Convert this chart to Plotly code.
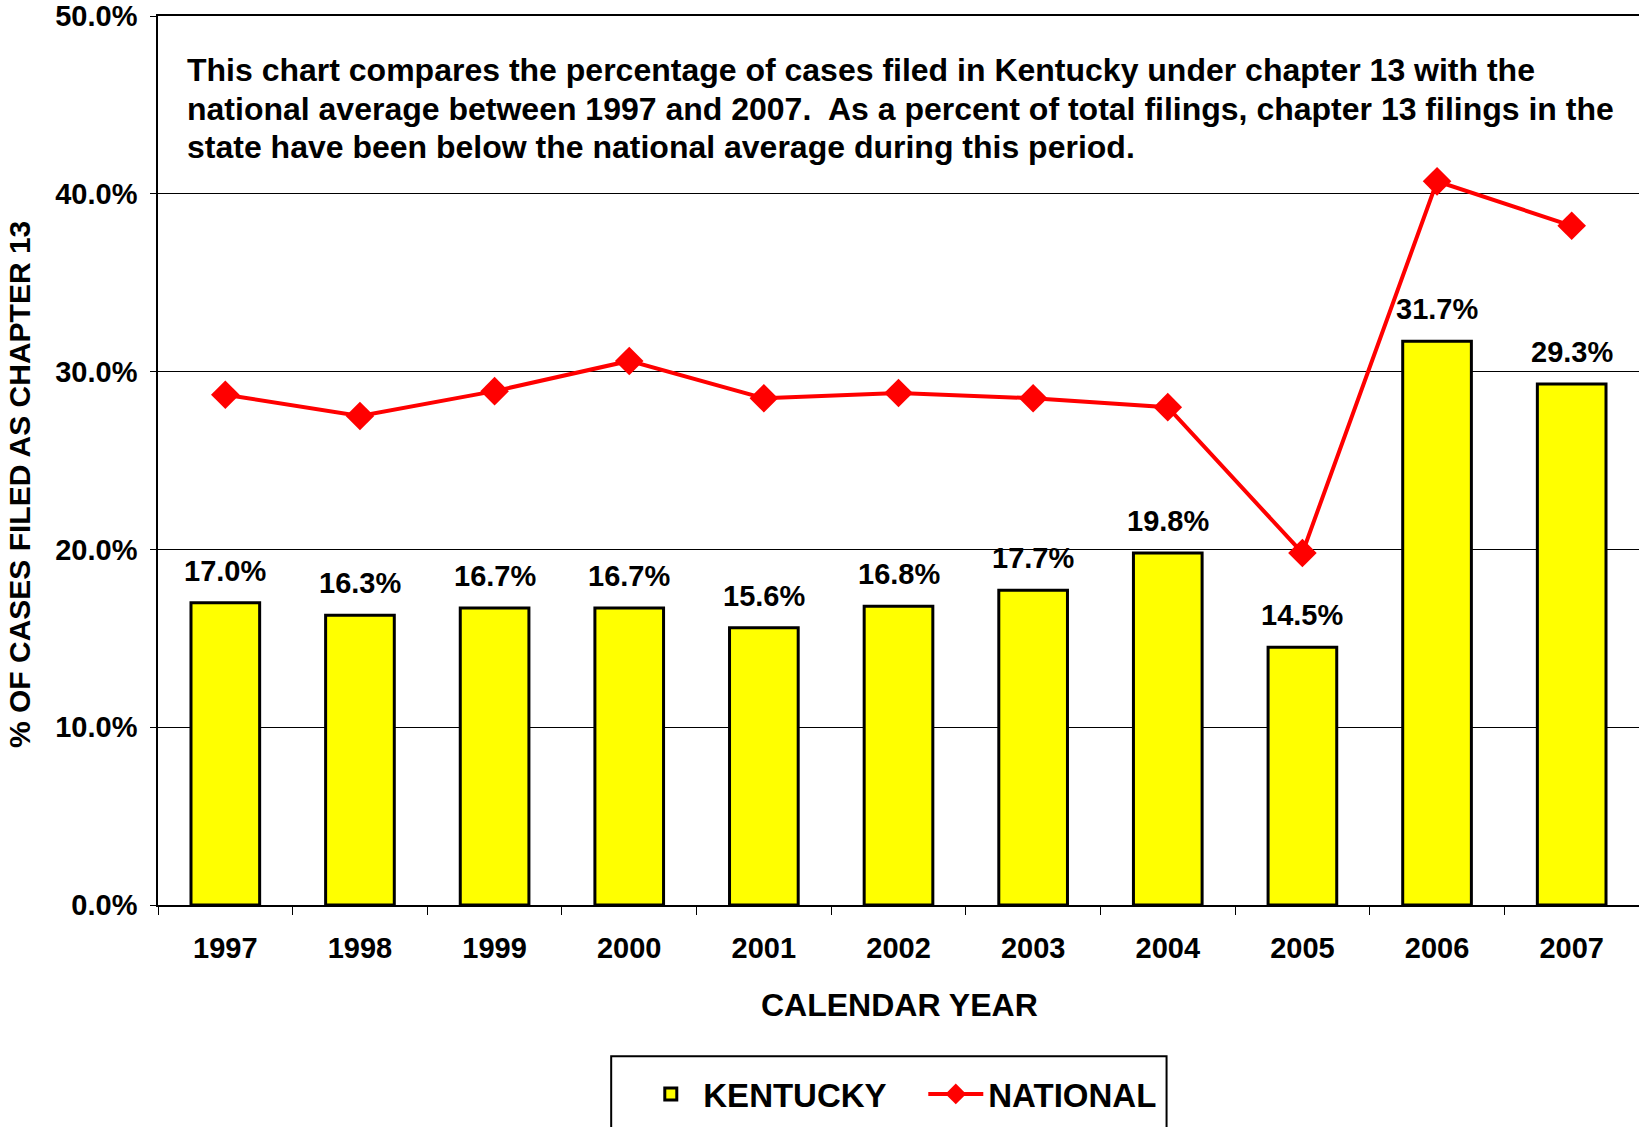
import plotly.graph_objects as go

years = ["1997", "1998", "1999", "2000", "2001", "2002", "2003", "2004", "2005", "2006", "2007"]
kentucky = [17.0, 16.3, 16.7, 16.7, 15.6, 16.8, 17.7, 19.8, 14.5, 31.7, 29.3]
national = [28.7, 27.5, 28.9, 30.6, 28.5, 28.8, 28.5, 28.0, 19.8, 40.7, 38.2]
y_ticks = [0, 10, 20, 30, 40, 50]
note_lines = [
    "This chart compares the percentage of cases filed in Kentucky under chapter 13 with the",
    "national average between 1997 and 2007.  As a percent of total filings, chapter 13 filings in the",
    "state have been below the national average during this period.",
]

FONT = "Liberation Sans, Arial, sans-serif"

fig = go.Figure()
fig.add_trace(go.Bar(
    x=years, y=kentucky, name="KENTUCKY",
    marker=dict(color="#FFFF00", line=dict(color="black", width=3)),
    hoverinfo="skip",
))
fig.add_trace(go.Scatter(
    x=years, y=national, name="NATIONAL", mode="lines+markers",
    line=dict(color="#FF0000", width=4),
    marker=dict(symbol="diamond", size=22, color="#FF0000"),
))

# value labels above bars (x given as category index)
for i, v in enumerate(kentucky):
    fig.add_annotation(x=i, y=v, xref="x", yref="y", text=f"{v:.1f}%", showarrow=False,
                       yanchor="bottom", yshift=14,
                       font=dict(family=FONT, size=29, color="black", weight="bold"))

for i, line in enumerate(note_lines):
    fig.add_annotation(xref="paper", yref="paper", x=0.018, y=0.9389 - i * 0.0430,
                       xanchor="left", yanchor="middle", align="left",
                       text=line, showarrow=False,
                       font=dict(family=FONT, size=32, color="black", weight="bold"))
fig.add_annotation(xref="paper", yref="paper", x=-0.0935, y=0.473, textangle=-90,
                   text="% OF CASES FILED AS CHAPTER 13", showarrow=False,
                   xanchor="center", yanchor="middle",
                   font=dict(family=FONT, size=30, color="black", weight="bold"))
fig.add_annotation(xref="paper", yref="paper", x=0.501, y=-0.1124,
                   text="CALENDAR YEAR", showarrow=False, xanchor="center", yanchor="middle",
                   font=dict(family=FONT, size=32, color="black", weight="bold"))

# legend frame (extends past the bottom edge as in the reference)
fig.add_shape(type="rect", xref="paper", yref="paper", x0=0.306, x1=0.681, y0=-0.27, y1=-0.170,
              line=dict(color="black", width=2), fillcolor="rgba(0,0,0,0)", layer="above")

fig.update_layout(
    width=1639, height=1127,
    margin=dict(l=158, r=0, t=16, b=222, autoexpand=False),
    paper_bgcolor="white", plot_bgcolor="white",
    font=dict(family=FONT, size=29, color="black", weight="bold"),
    bargap=0.49,
    showlegend=True,
    legend=dict(orientation="h", x=0.3243, y=-0.2126, xanchor="left", yanchor="middle",
                borderwidth=0, bgcolor="rgba(0,0,0,0)",
                font=dict(family=FONT, size=33, color="black", weight="bold"),
                itemwidth=55, entrywidth=215, traceorder="normal"),
    xaxis=dict(type="category", automargin=False, range=[-0.5, 10.5],
               showgrid=False, showline=True, linecolor="black", linewidth=1.5, mirror=True,
               ticks="outside", tickson="boundaries", ticklen=8, tickcolor="black",
               ticklabelstandoff=16, tickfont=dict(family=FONT, size=29, weight="bold")),
    yaxis=dict(range=[0, 50], tickvals=y_ticks, ticktext=[f"{t:.1f}%" for t in y_ticks],
               automargin=False, ticklabeloverflow="allow",
               showgrid=True, gridcolor="black", gridwidth=1, zeroline=False,
               showline=True, linecolor="black", linewidth=1.5,
               ticks="outside", ticklen=6, tickcolor="black",
               ticklabelstandoff=7, tickfont=dict(family=FONT, size=29, weight="bold")),
)

fig.write_html("out.html", config={"displayModeBar": False},
               post_script="document.body.style.margin='0';")
